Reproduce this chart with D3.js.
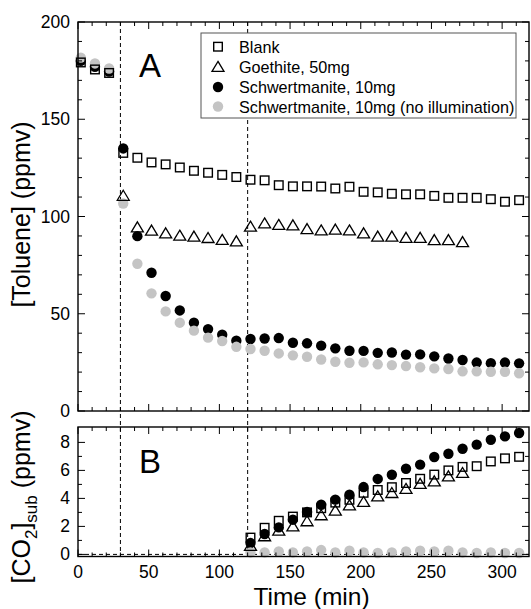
<!DOCTYPE html>
<html><head><meta charset="utf-8">
<script src="https://cdn.jsdelivr.net/npm/d3@7"></script>
<style>html,body{margin:0;padding:0;background:#fff;}svg{display:block;font-family:"Liberation Sans",Arial,sans-serif;}</style>
</head><body>
<script>
// ---- data ----
const timesA_pre = [2, 12, 22];
const timesPost = [32, 42, 52, 62, 72, 82, 92, 102, 112, 122, 132, 142, 152, 162, 172, 182, 192, 202, 212, 222, 232, 242, 252, 262, 272, 282, 292, 302, 312];
const blankTop = [179.2, 175.6, 173.8, 132.7, 130.2, 127.8, 126.8, 125.2, 123.5, 122.5, 121.4, 120.3, 118.9, 118.6, 116.1, 115.5, 115.5, 115.4, 114.4, 115.3, 112.7, 112.4, 111.7, 111.4, 111.4, 110.6, 109.6, 109.6, 109.6, 108.9, 107.6, 108.4];
const goethiteTimes = [32, 42, 52, 62, 72, 82, 92, 102, 112, 122, 132, 142, 152, 162, 172, 182, 192, 202, 212, 222, 232, 242, 252, 262, 272];
const goethiteTop = [110.6, 94.4, 92.7, 91.3, 90.1, 89.6, 88.9, 87.9, 87.2, 94.7, 96.4, 95.6, 95.4, 93.5, 92.8, 93.2, 92.8, 91.3, 89.6, 89.6, 89.0, 89.0, 87.8, 87.8, 86.8];
const schwTop = [180.0, 177.0, 174.5, 135.0, 89.9, 71.1, 59.1, 51.7, 45.4, 42.1, 39.2, 36.1, 37.0, 37.3, 37.5, 35.1, 34.8, 33.6, 32.2, 31.0, 30.9, 29.9, 30.1, 29.0, 29.1, 28.1, 27.0, 26.2, 24.9, 24.6, 24.9, 24.5];
const darkTop = [181.7, 178.7, 176.1, 106.7, 75.7, 60.5, 51.2, 45.4, 41.3, 37.7, 36.0, 33.0, 31.9, 31.0, 29.6, 28.6, 27.9, 26.5, 25.3, 24.8, 25.0, 24.0, 23.6, 23.1, 22.5, 21.9, 21.6, 20.4, 20.4, 20.2, 20.2, 19.4];
const timesB = [122, 132, 142, 152, 162, 172, 182, 192, 202, 212, 222, 232, 242, 252, 262, 272, 282, 292, 302, 312];
const blankB = [1.2, 1.9, 2.4, 2.7, 3.0, 3.3, 3.7, 3.9, 4.4, 4.6, 4.8, 5.1, 5.4, 5.7, 6.0, 6.25, 6.3, 6.64, 6.86, 6.97];
const goethiteTimesB = [122, 132, 142, 152, 162, 172, 182, 192, 202, 212, 222, 232, 242, 252, 262, 272];
const goethiteB = [0.6, 1.29, 1.69, 2.0, 2.36, 2.79, 3.12, 3.5, 3.74, 4.14, 4.38, 4.67, 5.03, 5.21, 5.57, 5.81];
const schwB = [0.81, 1.46, 1.93, 2.48, 3.03, 3.55, 3.91, 4.26, 4.81, 5.39, 5.69, 6.12, 6.41, 6.96, 7.19, 7.55, 7.84, 8.19, 8.43, 8.67];
const darkB = [0.14, 0.14, 0.21, 0.14, 0.21, 0.31, 0.14, 0.26, 0.14, 0.1, 0.14, 0.21, 0.26, 0.21, 0.26, 0.14, 0.1, 0.14, 0.1, 0.1];
const xTicks = [0, 50, 100, 150, 200, 250, 300];
const yTicksTop = [0, 50, 100, 150, 200];
const yTicksBot = [0, 2, 4, 6, 8];
const legendLabels = ["Blank", "Goethite, 50mg", "Schwertmanite, 10mg", "Schwertmanite, 10mg (no illumination)"];
const eventTimes = [30, 120];

// ---- layout ----
const W = 531, H = 609;
const L = 78, R = 529;
const topT = 22, topB = 411, botT = 427, botB = 556.5;
const GRAY = "#c4c4c4";

const svg = d3.select("body").append("svg").attr("width", W).attr("height", H);

const x = d3.scaleLinear().domain([0, 319]).range([L, R]);
const yA = d3.scaleLinear().domain([0, 200]).range([topB, topT]);
const yB = d3.scaleLinear().domain([-0.15, 9.1]).range([botB, botT]);

const tTimesTop = timesA_pre.concat(timesPost);

function zip(ts, vs) { return ts.map((t, i) => ({t, v: vs[i]})); }

function ticksPanel(yScale, yMinor, yMajorStep, top, bottom) {
  const g = svg.append("g").attr("stroke", "#000").attr("stroke-width", 1);
  const xMinor = d3.range(0, 320, 10);
  xMinor.forEach(v => {
    const len = v % 50 === 0 ? 7 : 4;
    const px = x(v);
    g.append("line").attr("x1", px).attr("x2", px).attr("y1", bottom).attr("y2", bottom - len);
    g.append("line").attr("x1", px).attr("x2", px).attr("y1", top).attr("y2", top + len);
  });
  yMinor.forEach(v => {
    const major = Math.abs(v / yMajorStep - Math.round(v / yMajorStep)) < 1e-6;
    const len = major ? 7 : 4;
    const py = yScale(v);
    g.append("line").attr("x1", L).attr("x2", L + len).attr("y1", py).attr("y2", py);
    g.append("line").attr("x1", R).attr("x2", R - len).attr("y1", py).attr("y2", py);
  });
  svg.append("rect").attr("x", L).attr("y", top).attr("width", R - L).attr("height", bottom - top)
    .attr("fill", "none").attr("stroke", "#000").attr("stroke-width", 1.4);
}

// dashed event lines
eventTimes.forEach(t => {
  svg.append("line").attr("x1", x(t)).attr("x2", x(t)).attr("y1", topT).attr("y2", botB)
    .attr("stroke", "#000").attr("stroke-width", 1).attr("stroke-dasharray", "4,3");
});
// zero line bottom panel
svg.append("line").attr("x1", L).attr("x2", R).attr("y1", yB(0)).attr("y2", yB(0))
  .attr("stroke", "#000").attr("stroke-width", 1).attr("stroke-dasharray", "4,3");

const triPath = "M0,-5.6L6,4.4L-6,4.4Z";
function drawCircles(data, yScale, color) {
  svg.append("g").selectAll("circle").data(data).join("circle")
    .attr("cx", d => x(d.t)).attr("cy", d => yScale(d.v)).attr("r", 5.2).attr("fill", color);
}
function drawSquares(data, yScale) {
  svg.append("g").selectAll("rect").data(data).join("rect")
    .attr("x", d => x(d.t) - 4.3).attr("y", d => yScale(d.v) - 4.3).attr("width", 8.6).attr("height", 8.6)
    .attr("fill", "none").attr("stroke", "#000").attr("stroke-width", 1.4);
}
function drawTris(data, yScale) {
  svg.append("g").selectAll("path").data(data).join("path")
    .attr("transform", d => `translate(${x(d.t)},${yScale(d.v)})`).attr("d", triPath)
    .attr("fill", "none").attr("stroke", "#000").attr("stroke-width", 1.3);
}

// panel A
drawCircles(zip(tTimesTop, schwTop), yA, "#000");
drawCircles(zip(tTimesTop, darkTop), yA, GRAY);
drawSquares(zip(tTimesTop, blankTop), yA);
drawTris(zip(goethiteTimes, goethiteTop), yA);
// panel B
drawCircles(zip(timesB, schwB), yB, "#000");
drawCircles(zip(timesB, darkB), yB, GRAY);
drawSquares(zip(timesB, blankB), yB);
drawTris(zip(goethiteTimesB, goethiteB), yB);

ticksPanel(yA, d3.range(0, 201, 10), 50, topT, topB);
ticksPanel(yB, d3.range(0, 9, 1), 2, botT, botB);

// tick labels
const fsTick = 17.5;
yTicksTop.forEach(v => svg.append("text").attr("x", 70).attr("y", yA(v) + 6).attr("text-anchor", "end")
  .attr("font-size", fsTick).text(v));
yTicksBot.forEach(v => svg.append("text").attr("x", 70).attr("y", yB(v) + 6).attr("text-anchor", "end")
  .attr("font-size", fsTick).text(v));
xTicks.forEach(v => svg.append("text").attr("x", x(v)).attr("y", 578).attr("text-anchor", "middle")
  .attr("font-size", fsTick).text(v));

// axis titles
svg.append("text").attr("x", 311.5).attr("y", 605).attr("text-anchor", "middle").attr("font-size", 24.5).text("Time (min)");
svg.append("text").attr("transform", `translate(29.5,${(topT + topB) / 2 - 2}) rotate(-90)`).attr("text-anchor", "middle")
  .attr("font-size", 25).text("[Toluene] (ppmv)");
const tB = svg.append("text").attr("transform", `translate(29.5,497) rotate(-90)`).attr("text-anchor", "middle")
  .attr("font-size", 25);
tB.append("tspan").text("[CO");
tB.append("tspan").attr("font-size", 17).attr("dy", 7).text("2");
tB.append("tspan").attr("dy", -7).text("]");
tB.append("tspan").attr("font-size", 17).attr("dy", 7).text("sub");
tB.append("tspan").attr("dy", -7).text(" (ppmv)");

// panel letters
svg.append("text").attr("x", 150).attr("y", 77).attr("text-anchor", "middle").attr("font-size", 33).text("A");
svg.append("text").attr("x", 150).attr("y", 473).attr("text-anchor", "middle").attr("font-size", 33).text("B");

// legend
const lg = svg.append("g");
lg.append("rect").attr("x", 201).attr("y", 33).attr("width", 315).attr("height", 85)
  .attr("fill", "#fff").attr("stroke", "#555").attr("stroke-width", 1);
const rowsY = [46.7, 67, 87, 106.5];
const lx = 218;
lg.append("rect").attr("x", lx - 4.3).attr("y", rowsY[0] - 4.3).attr("width", 8.6).attr("height", 8.6)
  .attr("fill", "none").attr("stroke", "#000").attr("stroke-width", 1.4);
lg.append("path").attr("transform", `translate(${lx},${rowsY[1]})`).attr("d", triPath)
  .attr("fill", "none").attr("stroke", "#000").attr("stroke-width", 1.3);
lg.append("circle").attr("cx", lx).attr("cy", rowsY[2]).attr("r", 5.2).attr("fill", "#000");
lg.append("circle").attr("cx", lx).attr("cy", rowsY[3]).attr("r", 5.2).attr("fill", GRAY);
legendLabels.forEach((s, i) => lg.append("text").attr("x", 239).attr("y", rowsY[i] + 6)
  .attr("font-size", 16.2).text(s));
</script>
</body></html>
